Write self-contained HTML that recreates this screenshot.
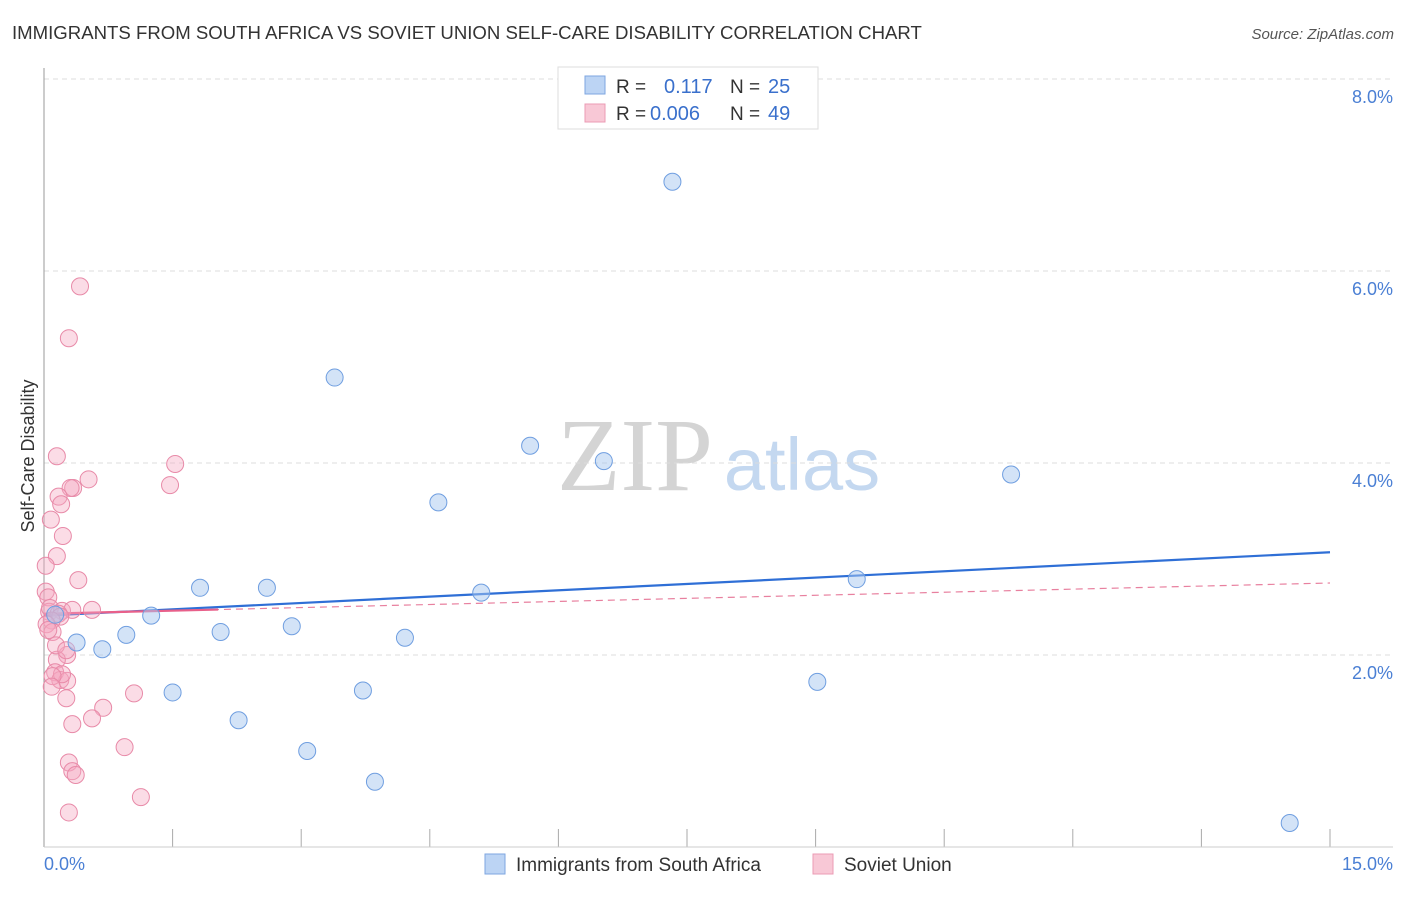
<!DOCTYPE html>
<html><head><meta charset="utf-8"><style>
body{margin:0;background:#fff;font-family:"Liberation Sans",sans-serif;}
</style></head><body>
<svg width="1406" height="892" viewBox="0 0 1406 892" xmlns="http://www.w3.org/2000/svg">
<text x="12" y="39" font-size="18.6" fill="#333">IMMIGRANTS FROM SOUTH AFRICA VS SOVIET UNION SELF-CARE DISABILITY CORRELATION CHART</text>
<text x="1394" y="39" font-size="15" fill="#555" font-style="italic" text-anchor="end">Source: ZipAtlas.com</text>
<g>
<text x="635" y="490" font-size="104" fill="#d4d4d4" font-family="Liberation Serif,serif" text-anchor="middle">ZIP</text>
<text x="802" y="490" font-size="74" fill="#c4d8f0" text-anchor="middle">atlas</text>
</g>
<g id="grid"></g>
<line x1="44" y1="68" x2="44" y2="847" stroke="#999"/>
<line x1="44" y1="847" x2="1393" y2="847" stroke="#ccc"/>
<text x="34" y="456" font-size="18" fill="#333" text-anchor="middle" transform="rotate(-90 34 456)">Self-Care Disability</text>
<text x="44" y="870" font-size="18" fill="#4a7fd4">0.0%</text>
<text x="1393" y="870" font-size="18" fill="#4a7fd4" text-anchor="end">15.0%</text>
<g id="lines"></g>
<g id="points"></g>
<g>
<rect x="558" y="67" width="260" height="62" fill="#fff" stroke="#ddd"/>
<rect x="585" y="76" width="20" height="18" fill="#bcd4f4" stroke="#7ea6e0"/>
<rect x="585" y="104" width="20" height="18" fill="#f8c8d6" stroke="#eb9bb4"/>
<text x="616" y="93" font-size="19" fill="#333">R =</text>
<text x="664" y="93" font-size="20" fill="#3a70cc">0.117</text>
<text x="730" y="93" font-size="19" fill="#333">N =</text>
<text x="768" y="93" font-size="20" fill="#3a70cc">25</text>
<text x="616" y="120" font-size="19" fill="#333">R =</text>
<text x="650" y="120" font-size="20" fill="#3a70cc">0.006</text>
<text x="730" y="120" font-size="19" fill="#333">N =</text>
<text x="768" y="120" font-size="20" fill="#3a70cc">49</text>
</g>
<g>
<rect x="485" y="854" width="20" height="20" fill="#bcd4f4" stroke="#7ea6e0"/>
<text x="516" y="871" font-size="19" fill="#333">Immigrants from South Africa</text>
<rect x="813" y="854" width="20" height="20" fill="#f8c8d6" stroke="#eb9bb4"/>
<text x="844" y="871" font-size="19" fill="#333">Soviet Union</text>
</g>
</svg>
<script>
const yTicks=[2,4,6,8];
const yTickLabels=["2.0%","4.0%","6.0%","8.0%"];
const xTicks=[1.5,3,4.5,6,7.5,9,10.5,12,13.5,15];
const blueX=[7.33,3.39,5.67,6.53,4.60,11.28,1.82,2.60,9.48,5.10,1.25,0.96,2.06,2.89,0.38,0.68,4.21,1.50,3.72,9.02,2.27,3.07,3.86,14.53,0.13];
const blueY=[6.93,4.89,4.18,4.02,3.59,3.88,2.70,2.70,2.79,2.65,2.41,2.21,2.24,2.30,2.13,2.06,2.18,1.61,1.63,1.72,1.32,1.00,0.68,0.25,2.42];
const pinkX=[0.42,0.29,0.15,0.52,0.34,0.31,1.53,1.47,0.17,0.20,0.08,0.22,0.15,0.02,0.40,0.02,0.05,0.06,0.07,0.21,0.33,0.56,0.17,0.19,0.09,0.03,0.10,0.27,0.15,0.13,0.19,0.27,0.21,0.10,0.09,0.26,1.05,0.69,0.56,0.33,0.94,0.29,0.33,0.37,1.13,0.29,0.05,0.14,0.26];
const pinkY=[5.84,5.30,4.07,3.83,3.74,3.74,3.99,3.77,3.65,3.57,3.41,3.24,3.03,2.93,2.78,2.66,2.60,2.45,2.49,2.46,2.47,2.47,2.43,2.40,2.36,2.32,2.24,2.00,1.95,1.82,1.74,1.73,1.80,1.78,1.67,1.55,1.60,1.45,1.34,1.28,1.04,0.88,0.79,0.75,0.52,0.36,2.26,2.10,2.05];
const blueTrend=[2.41,3.07];
const pinkTrend=[2.43,2.75];
const pinkSolidEnd=2.03;

const NS="http://www.w3.org/2000/svg";
function sx(v){return 44+v*(1286/15);}
function sy(v){return 847-v*96;}
function mk(tag,attrs,parent){const e=document.createElementNS(NS,tag);for(const k in attrs)e.setAttribute(k,attrs[k]);parent.appendChild(e);return e;}
const grid=document.getElementById('grid');
yTicks.forEach((t,i)=>{
  const l=mk('line',{x1:44,x2:1393,y1:sy(t),y2:sy(t),stroke:'#ddd','stroke-dasharray':'5,4'},grid);
  
  
  const tx=mk('text',{x:1393,y:sy(t)+24,'font-size':18,fill:'#4a7fd4','text-anchor':'end'},grid);
  tx.textContent=yTickLabels[i];
  
  
});
xTicks.forEach(t=>{
  const l=mk('line',{x1:sx(t),x2:sx(t),y1:829,y2:847,stroke:'#aaa'},grid);
  
  
});
const lines=document.getElementById('lines');
const bl=mk('line',{x1:sx(0),y1:sy(blueTrend[0]),x2:sx(15),y2:sy(blueTrend[1]),stroke:'#2f6fd6','stroke-width':2.2},lines);


const pd=mk('line',{x1:sx(0),y1:sy(pinkTrend[0]),x2:sx(15),y2:sy(pinkTrend[1]),stroke:'#e8809f','stroke-width':1.2,'stroke-dasharray':'7,5'},lines);


const py2=pinkTrend[0]+(pinkTrend[1]-pinkTrend[0])*pinkSolidEnd/15;
const ps=mk('line',{x1:sx(0),y1:sy(pinkTrend[0]),x2:sx(pinkSolidEnd),y2:sy(py2),stroke:'#e8608a','stroke-width':2.2},lines);


const pts=document.getElementById('points');
pinkX.forEach((x,i)=>{
  const c=mk('circle',{cx:sx(x),cy:sy(pinkY[i]),r:8.5,fill:'rgba(244,168,192,0.4)',stroke:'#e88aa8','stroke-width':1},pts);
  
  
});
blueX.forEach((x,i)=>{
  const c=mk('circle',{cx:sx(x),cy:sy(blueY[i]),r:8.5,fill:'rgba(168,200,240,0.5)',stroke:'#6f9ee0','stroke-width':1},pts);
  
  
});
</script>
</body></html>
